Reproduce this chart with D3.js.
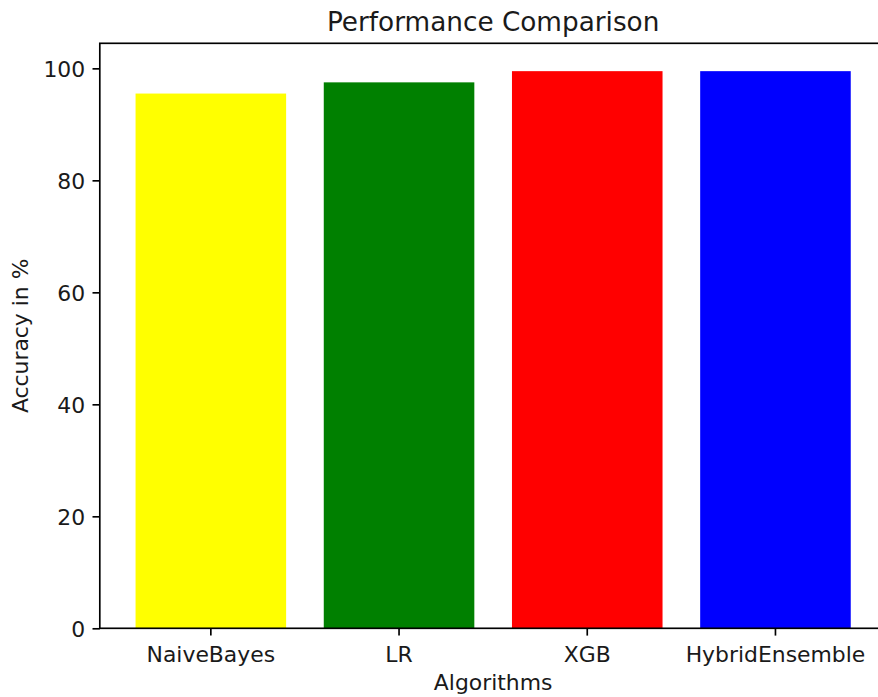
<!DOCTYPE html>
<html>
<head>
<meta charset="utf-8">
<script src="https://cdn.jsdelivr.net/npm/d3@7"></script>
<style>
  body { margin: 0; background: #fff; }
  svg { display: block; font-family: "DejaVu Sans", sans-serif; }
</style>
</head>
<body>
<div id="chart"></div>
<script>
// values
const algorithms = ['NaiveBayes', 'LR', 'XGB', 'HybridEnsemble']
const accuracy = [95.5, 97.5, 99.5, 99.5]
const barColors = ['yellow', 'green', 'red', 'blue']
const yTicks = [0, 20, 40, 60, 80, 100]

const width = 878, height = 697
const plotLeft = 99.8, plotTop = 43.3, plotW = 786.7, plotH = 585

const svg = d3.select('#chart').append('svg')
  .attr('width', width)
  .attr('height', height)

const x = d3.scaleBand()
  .domain(algorithms)
  .range([plotLeft, plotLeft + plotW])
  .paddingInner(0.2)
  .paddingOuter(0.19)

const y = d3.scaleLinear()
  .domain([0, d3.max(accuracy) * 1.05])
  .range([plotTop + plotH, plotTop])

const rows = algorithms.map((a, i) => ({name: a, value: accuracy[i], color: barColors[i]}))

svg.append('g')
  .selectAll('rect')
  .data(rows)
  .enter()
  .append('rect')
  .attr('x', d => x(d.name))
  .attr('width', x.bandwidth())
  .attr('y', d => y(d.value))
  .attr('height', d => y(0) - y(d.value))
  .attr('fill', d => d.color)

const fontSize = 21.9
const tickLen = 7.3
const textColor = '#1a1a1a'

let yAxis = svg.append('g')
  .attr('transform', `translate(${plotLeft},0)`)
  .call(d3.axisLeft(y).tickValues(yTicks).tickSize(tickLen).tickPadding(7.3))
yAxis.select('.domain').remove()

let xAxis = svg.append('g')
  .attr('transform', `translate(0,${plotTop + plotH})`)
  .call(d3.axisBottom(x).tickSize(tickLen).tickPadding(7.3))
xAxis.select('.domain').remove()

svg.selectAll('.tick line').attr('stroke', '#000').attr('stroke-width', 1.67)
svg.selectAll('.tick text')
  .attr('fill', textColor)
  .style('font-size', fontSize + 'px')
  .style('font-family', '"DejaVu Sans", sans-serif')
xAxis.selectAll('.tick text').attr('dy', null).attr('y', 662 - (plotTop + plotH))
yAxis.selectAll('.tick text').attr('dy', '0.36em')

// frame
svg.append('rect')
  .attr('x', plotLeft)
  .attr('y', plotTop)
  .attr('width', plotW)
  .attr('height', plotH)
  .attr('fill', 'none')
  .attr('stroke', '#000')
  .attr('stroke-width', 1.67)

svg.append('text')
  .attr('x', plotLeft + plotW / 2)
  .attr('y', 30.5)
  .attr('text-anchor', 'middle')
  .attr('fill', textColor)
  .style('font-size', '26.3px')
  .text('Performance Comparison')

svg.append('text')
  .attr('x', plotLeft + plotW / 2)
  .attr('y', 690)
  .attr('text-anchor', 'middle')
  .attr('fill', textColor)
  .style('font-size', fontSize + 'px')
  .text('Algorithms')

svg.append('text')
  .attr('transform', `translate(28,${plotTop + plotH / 2}) rotate(-90)`)
  .attr('text-anchor', 'middle')
  .attr('fill', textColor)
  .style('font-size', fontSize + 'px')
  .text('Accuracy in %')
</script>
</body>
</html>
